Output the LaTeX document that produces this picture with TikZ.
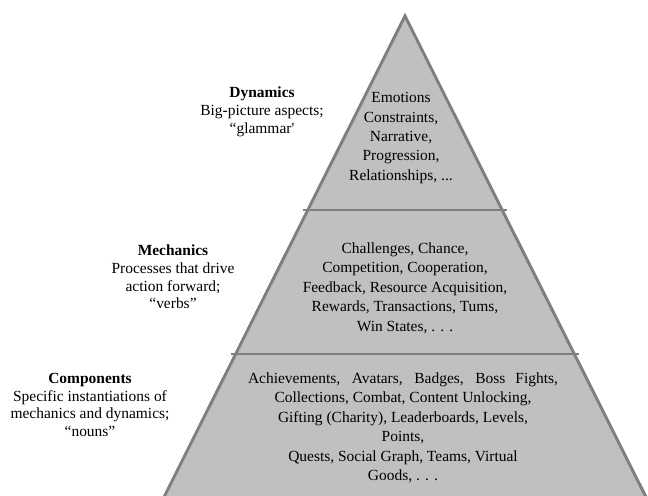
\documentclass[tikz,border=0pt]{standalone}
\usepackage{fontspec}
\setmainfont{Liberation Serif}
\newfontfamily\plainq{Liberation Serif}[Ligatures=TeXOff]
\definecolor{pyrfill}{HTML}{C0C0C0}
\definecolor{pyrline}{HTML}{7F7F7F}
\begin{document}
\begin{tikzpicture}[x=0.75pt,y=-0.75pt,
  lbl/.style={align=center,inner sep=0pt,font=\fontsize{11.6}{13.3}\selectfont,text=black},
  body/.style={align=center,inner sep=0pt,font=\fontsize{11.6}{14.6}\selectfont,text=black},
  edge/.style={draw=pyrline,line width=2.2pt}]
\useasboundingbox (0,0) rectangle (648,495);
\begin{scope}
\clip (0,0) rectangle (648,495);
\coordinate (apex) at (405,16);
\coordinate (bl) at (158,509);
\coordinate (br) at (652,509);
\filldraw[fill=pyrfill,edge,line join=miter] (bl) -- (apex) -- (br) -- cycle;
\coordinate (d1l) at (303,210);
\coordinate (d1r) at (507,210);
\coordinate (d2l) at (231,354);
\coordinate (d2r) at (579,354);
\draw[edge] (d1l) -- (d1r);
\draw[edge] (d2l) -- (d2r);
\end{scope}
\node[lbl] (dynlbl) at (262,112) {\textbf{Dynamics}\\Big-picture aspects;\\``glammar{\plainq\symbol{39}}};
\node[lbl] (mechlbl) at (173,277) {\textbf{Mechanics}\\Processes that drive\\action forward;\\``verbs''};
\node[lbl] (complbl) at (90,405) {\textbf{Components}\\Specific instantiations of\\mechanics and dynamics;\\``nouns''};
\node[body] (dyntxt) at (401,138) {Emotions\\Constraints,\\Narrative,\\Progression,\\Relationships, ...};
\node[body] (mechtxt) at (405,288) {Challenges, Chance,\\Competition, Cooperation,\\Feedback, Resource Acquisition,\\Rewards, Transactions, Tums,\\Win States, . . .};
\node[body] (comptxt) at (403,428) {\makebox[232.5pt][s]{Achievements, Avatars, Badges, Boss Fights,}\\Collections, Combat, Content Unlocking,\\Gifting (Charity), Leaderboards, Levels,\\Points,\\Quests, Social Graph, Teams, Virtual\\Goods, . . .};
\end{tikzpicture}
\end{document}
